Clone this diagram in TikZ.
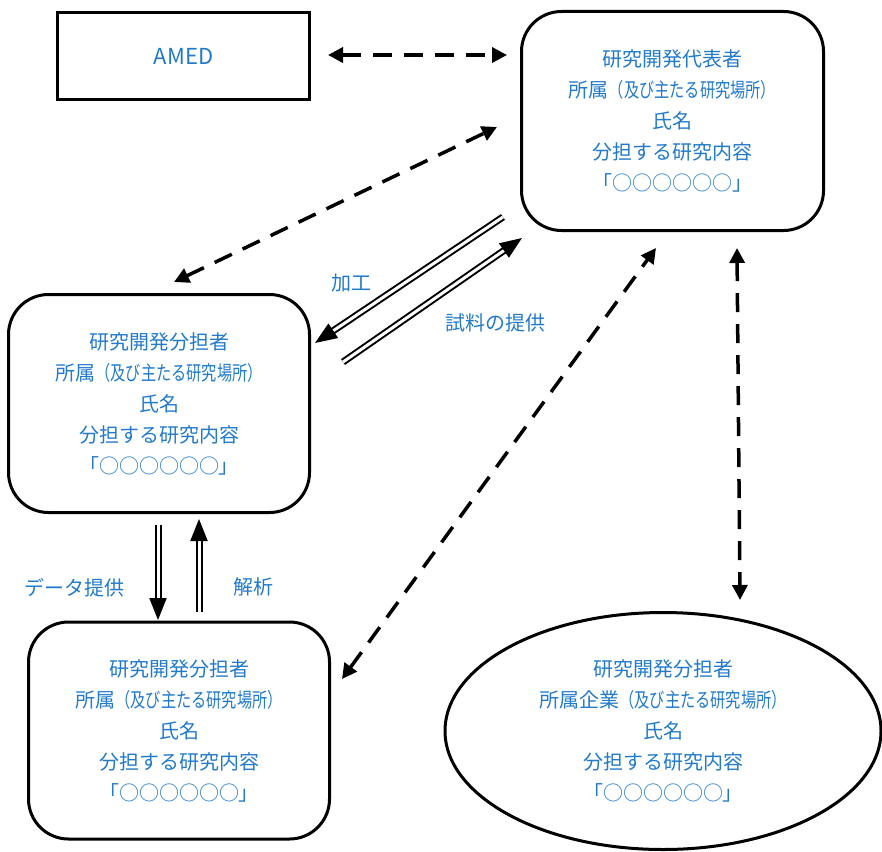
\documentclass[tikz,border=0pt]{standalone}
\usepackage{fontspec}
\setmainfont{Noto Sans CJK JP}
\newfontfamily\paltfont[RawFeature=+palt]{Noto Sans CJK JP}
\usetikzlibrary{arrows.meta,shapes.geometric}
\definecolor{txtblue}{RGB}{34,122,200}
\newcommand{\sqz}[1]{\scalebox{0.76}[1]{#1}}
\tikzset{
  body/.style={text=txtblue,font=\fontsize{20}{31}\selectfont,align=center},
  card/.style={body,draw=black,line width=3pt,rounded corners=40pt,
    minimum width=300pt,minimum height=218pt,inner sep=0pt},
  lbl/.style={text=txtblue,font=\fontsize{20}{23}\selectfont,inner sep=0pt},
  dasharrow/.style={line width=3.5pt,dash pattern=on 19pt off 12pt,
    {Triangle[length=15pt,width=15pt]}-{Triangle[length=15pt,width=15pt]}},
  dblarrow/.style={double,double distance=3pt,line width=2pt,
    -{Triangle[length=22pt,width=17pt]}},
}
\newcommand{\brk}{{\paltfont 「○○○○○○」}}
\begin{document}
\begin{tikzpicture}[x=1pt,y=-1pt]
\useasboundingbox (0,0) rectangle (882,851);

% boxes
\node[body,draw=black,line width=3pt,minimum width=252pt,minimum height=87pt,inner sep=0pt,
  font=\fontsize{22}{26}\selectfont]
  (amed) at (183.5,56) {AMED};
\node[card,minimum width=302pt,minimum height=219pt] (rep) at (672.5,121)
  {研究開発代表者\\所属\sqz{（及び主たる研究場所）}\\氏名\\分担する研究内容\\\brk};
\node[card,minimum width=301pt,minimum height=218pt] (subA) at (159,403.5)
  {研究開発分担者\\所属\sqz{（及び主たる研究場所）}\\氏名\\分担する研究内容\\\brk};
\node[card,minimum width=301pt,minimum height=217pt] (subB) at (179,730.5)
  {研究開発分担者\\所属\sqz{（及び主たる研究場所）}\\氏名\\分担する研究内容\\\brk};
\node[body,draw=black,line width=3pt,ellipse,minimum width=436pt,minimum height=237pt,inner sep=0pt]
  (firm) at (663,731)
  {研究開発分担者\\所属企業\sqz{（及び主たる研究場所）}\\氏名\\分担する研究内容\\\brk};

% connector end points
\coordinate (a1) at (328,55);  \coordinate (a2) at (507,55);
\coordinate (d1) at (497,127); \coordinate (d2) at (174,282);
\coordinate (k1) at (503,217); \coordinate (k2) at (315,343);
\coordinate (s1) at (343,362); \coordinate (s2) at (522,238);
\coordinate (e1) at (656,248); \coordinate (e2) at (342,679);
\coordinate (v1) at (737,248); \coordinate (v2) at (740,600);
\coordinate (t1) at (158,525); \coordinate (t2) at (158,620);
\coordinate (n1) at (199,612); \coordinate (n2) at (199,519);

% dashed links
\draw[dasharrow] (a1) -- (a2);
\draw[dasharrow] (d2) -- (d1);
\draw[dasharrow] (e2) -- (e1);
\draw[dasharrow] (v1) -- (v2);

% material flows
\draw[dblarrow] (k1) -- (k2);
\draw[dblarrow] (s1) -- (s2);
\draw[dblarrow] (t1) -- (t2);
\draw[dblarrow] (n1) -- (n2);

% flow labels
\node[lbl] (lk) at (351,283) {加工};
\node[lbl] (ls) at (495,323) {試料の提供};
\node[lbl] (lt) at (74,588) {データ提供};
\node[lbl] (ln) at (253,587) {解析};
\end{tikzpicture}
\end{document}
